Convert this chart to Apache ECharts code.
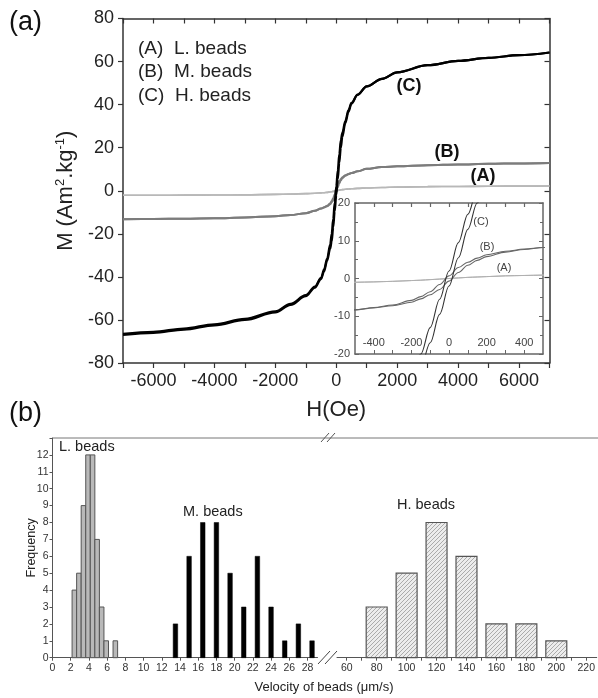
<!DOCTYPE html>
<html><head><meta charset="utf-8">
<script src="https://cdn.jsdelivr.net/npm/echarts@6/dist/echarts.min.js"></script>
<style>html,body{margin:0;padding:0;background:#fff}#c{width:598px;height:698px}</style>
</head><body><div id="c"></div><script>
// ---- (a) magnetisation loops: field sweeps and moments (Am2/kg) ----
const fieldDown = [7000,6000,5000,4000,3000,2000,1500,1000,700,500,400,300,200,150,100,50,0,-50,-100,-150,-200,-300,-400,-500,-700,-1000,-1500,-2000,-3000,-4000,-5000,-6000,-7000];
const fieldUp = [-7000,-6000,-5000,-4000,-3000,-2000,-1500,-1000,-700,-500,-400,-300,-200,-150,-100,-50,0,50,100,150,200,300,400,500,700,1000,1500,2000,3000,4000,5000,6000,7000];

const momentCDown = [64.2,63,61.7,60.3,58.3,55,52,48.5,44.7,40.8,37.5,32.5,27,23.5,17,9.5,2,-5.5,-13,-20,-25,-31.5,-36.5,-40.5,-44.5,-48.5,-52.5,-56,-59.5,-62,-64,-65.5,-66.5];
const momentCUp = [-67,-66,-64.5,-62.5,-60,-56.5,-53,-49,-45,-41,-37.5,-32.5,-27,-23.5,-17,-9.5,-2,5.5,13,20,25,31.5,36.5,40.5,44.5,48.5,52,55,58.3,60.3,61.7,63,64.2];

const momentBDown = [12.9,12.7,12.5,12.2,11.9,11.4,11,10.2,9,8.2,7.8,7.2,6.3,5.4,4.3,2.9,0.7,-1.6,-3.5,-4.8,-5.8,-7,-7.7,-8.3,-9.3,-10.4,-11.3,-11.8,-12.4,-12.8,-13,-13.1,-13.2];
const momentBUp = [-13.2,-13.1,-13,-12.8,-12.4,-11.8,-11.3,-10.4,-9.3,-8.3,-7.8,-7.2,-6.3,-5.4,-4.3,-2.9,-0.7,1.6,3.5,4.8,5.8,7,7.7,8.2,9,10.2,11,11.4,11.9,12.2,12.5,12.7,12.9];

const momentADown = [2.2,2.15,2.1,2.0,1.9,1.7,1.5,1.3,1.1,0.9,0.8,0.7,0.5,0.4,0.3,0.15,0,-0.15,-0.3,-0.45,-0.55,-0.75,-0.9,-1.0,-1.15,-1.35,-1.55,-1.7,-1.9,-2.0,-2.05,-2.1,-2.1];
const momentAUp = [-2.1,-2.1,-2.05,-2.0,-1.9,-1.7,-1.55,-1.35,-1.15,-1.0,-0.9,-0.75,-0.55,-0.45,-0.3,-0.15,0,0.15,0.3,0.4,0.5,0.7,0.8,0.9,1.1,1.3,1.5,1.7,1.9,2.0,2.1,2.15,2.2];

const mainXLabels = [-6000,-4000,-2000,0,2000,4000,6000];
const mainXTicks = [-7000,-6000,-5000,-4000,-3000,-2000,-1000,0,1000,2000,3000,4000,5000,6000,7000];
const insetXLabels = [-400,-200,0,200,400];
const insetXTicks = [-400,-300,-200,-100,0,100,200,300,400];

// ---- (b) velocity histograms ----
const lSpeed = [2.4,2.9,3.4,3.9,4.4,4.9,5.4,5.9,6.9];
const lCount = [4,5,9,12,12,7,3,1,1];
const mSpeed = [13.5,15,16.5,18,19.5,21,22.5,24,25.5,27,28.5];
const mCount = [2,6,8,8,5,3,6,3,1,2,1];
const hSpeed = [80,100,120,140,160,180,200];
const hCount = [3,5,8,6,2,2,1];
const lowSpeedLabels = [0,2,4,6,8,10,12,14,16,18,20,22,24,26,28];
const highSpeedLabels = [60,80,100,120,140,160,180,200,220];
const highSpeedTicks = [60,70,80,90,100,110,120,130,140,150,160,170,180,190,200,210,220];

const FONT = '"Liberation Sans", Arial, sans-serif';
const AX = '#333';

const pair = (xs, ys) => xs.map((x, i) => [x, ys[i]]);
const plain = v => String(v);

// diagonal hatch used by the fast-bead bars
const hatch = document.createElement('canvas');
hatch.width = 4; hatch.height = 4;
(function () {
  const g = hatch.getContext('2d');
  g.fillStyle = '#ececec'; g.fillRect(0, 0, 4, 4);
  g.strokeStyle = '#9a9a9a'; g.lineWidth = 0.8;
  g.beginPath();
  g.moveTo(0, 4); g.lineTo(4, 0);
  g.moveTo(-1, 1); g.lineTo(1, -1);
  g.moveTo(3, 5); g.lineTo(5, 3);
  g.stroke();
})();

function histItem(binWidth, fill, stroke, lw) {
  return function (params, api) {
    const x = api.value(0), y = api.value(1);
    const p0 = api.coord([x - binWidth / 2, y]);
    const p1 = api.coord([x + binWidth / 2, 0]);
    return {
      type: 'rect',
      shape: { x: p0[0], y: p0[1], width: p1[0] - p0[0], height: p1[1] - p0[1] },
      style: { fill: fill, stroke: stroke, lineWidth: lw }
    };
  };
}

const grids = [
  { left: 123, top: 18.5, width: 426.5, height: 344.5 },                 // main loop
  { left: 355, top: 203, width: 188, height: 151, show: true, backgroundColor: '#fff', borderWidth: 0 }, // inset
  { left: 52.5, top: 438, width: 265, height: 219.7 },                  // slow beads
  { left: 337, top: 438, width: 261, height: 219.7 }                    // fast beads
];

function loopSeries(xi, yi, xs, ys, color, width) {
  return {
    type: 'line', xAxisIndex: xi, yAxisIndex: yi, data: pair(xs, ys),
    showSymbol: false, smooth: 0.35, smoothMonotone: 'x',
    lineStyle: { color: color, width: width }, silent: true, animation: false
  };
}

function frameAxis(gridIndex, pos, min, max, color, ticks, tickLen) {
  return {
    gridIndex: gridIndex, type: 'value', min: min, max: max, position: pos,
    axisLine: { onZero: false, lineStyle: { color: color, width: 1.5 } },
    axisTick: { show: true, inside: true, customValues: ticks, length: tickLen, lineStyle: { color: color, width: 1.2 } },
    axisLabel: { show: false }, splitLine: { show: false }
  };
}

const option = {
  animation: false,
  textStyle: { fontFamily: FONT },
  grid: grids,
  xAxis: [
    { gridIndex: 0, type: 'value', min: -7000, max: 7000, position: 'bottom',
      axisLine: { onZero: false, lineStyle: { color: AX, width: 1.5 } },
      axisTick: { customValues: mainXTicks, length: 5, lineStyle: { color: AX, width: 1.2 } },
      axisLabel: { customValues: mainXLabels, formatter: plain, fontSize: 18, color: '#222', margin: 9, fontFamily: FONT },
      splitLine: { show: false },
      name: 'H(Oe)', nameLocation: 'middle', nameGap: 36,
      nameTextStyle: { fontSize: 22, color: '#222', fontFamily: FONT } },
    frameAxis(0, 'top', -7000, 7000, AX, mainXTicks, 5),
    { gridIndex: 1, type: 'value', min: -500, max: 500, position: 'bottom',
      axisLine: { onZero: false, lineStyle: { color: '#666', width: 1.5 } },
      axisTick: { inside: true, customValues: insetXTicks, length: 4, lineStyle: { color: '#666' } },
      axisLabel: { inside: true, customValues: insetXLabels, formatter: plain, fontSize: 11, color: '#444', margin: 6 },
      splitLine: { show: false } },
    frameAxis(1, 'top', -500, 500, '#666', insetXTicks, 4),
    { gridIndex: 2, type: 'value', min: 0, max: 29.1,
      axisLine: { onZero: false, lineStyle: { color: '#555', width: 1 } },
      axisTick: { customValues: lowSpeedLabels, length: 3, lineStyle: { color: '#555' } },
      axisLabel: { customValues: lowSpeedLabels, formatter: plain, fontSize: 10.5, color: '#333', margin: 5 },
      splitLine: { show: false } },
    { gridIndex: 3, type: 'value', min: 53.5, max: 227,
      axisLine: { onZero: false, lineStyle: { color: '#555', width: 1 } },
      axisTick: { customValues: highSpeedTicks, length: 3, lineStyle: { color: '#555' } },
      axisLabel: { customValues: highSpeedLabels, formatter: plain, fontSize: 10.5, color: '#333', margin: 5 },
      splitLine: { show: false } }
  ],
  yAxis: [
    { gridIndex: 0, type: 'value', min: -80, max: 80, interval: 20, position: 'left',
      axisLine: { show: true, onZero: false, lineStyle: { color: AX, width: 1.5 } },
      axisTick: { show: true, length: 5, lineStyle: { color: AX, width: 1.2 } },
      axisLabel: { fontSize: 18, color: '#222', margin: 9 },
      splitLine: { show: false },
      name: '{a|M (Am}{s|2}{a|.kg}{s|-1}{a|)}', nameLocation: 'middle', nameGap: 44,
      nameTextStyle: { fontFamily: FONT, rich: {
        a: { fontSize: 22, color: '#222', fontFamily: FONT },
        s: { fontSize: 13, color: '#222', fontFamily: FONT, padding: [0, 0, 12, 0] } } } },
    { gridIndex: 0, type: 'value', min: -80, max: 80, interval: 20, position: 'right',
      axisLine: { show: true, onZero: false, lineStyle: { color: AX, width: 1.5 } },
      axisTick: { show: true, inside: true, length: 5, lineStyle: { color: AX, width: 1.2 } },
      axisLabel: { show: false }, splitLine: { show: false } },
    { gridIndex: 1, type: 'value', min: -20, max: 20, interval: 10, position: 'left',
      axisLine: { show: true, onZero: false, lineStyle: { color: '#666', width: 1.5 } },
      axisTick: { show: true, inside: true, length: 4, lineStyle: { color: '#666' } },
      minorTick: { show: true, splitNumber: 2, length: 3, lineStyle: { color: '#666' } },
      axisLabel: { fontSize: 11, color: '#444', margin: 5 },
      splitLine: { show: false } },
    { gridIndex: 1, type: 'value', min: -20, max: 20, interval: 10, position: 'right',
      axisLine: { show: true, onZero: false, lineStyle: { color: '#666', width: 1.5 } },
      axisTick: { show: true, inside: true, length: 4, lineStyle: { color: '#666' } },
      minorTick: { show: true, splitNumber: 2, length: 3, lineStyle: { color: '#666' } },
      axisLabel: { show: false }, splitLine: { show: false } },
    { gridIndex: 2, type: 'value', min: 0, max: 13, interval: 1, position: 'left',
      axisLine: { show: true, onZero: false, lineStyle: { color: '#555', width: 1 } },
      axisTick: { show: true, length: 3, lineStyle: { color: '#555' } },
      axisLabel: { fontSize: 10.5, color: '#333', margin: 4,
        formatter: v => (v > 12 ? '' : String(v)) },
      splitLine: { show: false },
      name: 'Frequency', nameLocation: 'middle', nameGap: 14, nameMoveOverlap: false,
      nameTextStyle: { fontSize: 12.5, color: '#222', fontFamily: FONT } },
    { gridIndex: 3, type: 'value', min: 0, max: 13, show: false }
  ],
  series: [
    loopSeries(0, 0, fieldDown, momentADown, '#b8b8b8', 1.6),
    loopSeries(0, 0, fieldUp, momentAUp, '#b8b8b8', 1.6),
    loopSeries(0, 0, fieldDown, momentBDown, '#7c7c7c', 2),
    loopSeries(0, 0, fieldUp, momentBUp, '#7c7c7c', 2),
    loopSeries(0, 0, fieldDown, momentCDown, '#000', 2.2),
    loopSeries(0, 0, fieldUp, momentCUp, '#000', 2.2),
    loopSeries(2, 2, fieldDown, momentADown, '#b0b0b0', 1),
    loopSeries(2, 2, fieldUp, momentAUp, '#b0b0b0', 1),
    loopSeries(2, 2, fieldDown, momentBDown, '#666', 1.1),
    loopSeries(2, 2, fieldUp, momentBUp, '#666', 1.1),
    loopSeries(2, 2, fieldDown, momentCDown, '#333', 1.1),
    loopSeries(2, 2, fieldUp, momentCUp, '#333', 1.1),
    { type: 'custom', xAxisIndex: 4, yAxisIndex: 4, data: pair(lSpeed, lCount),
      renderItem: histItem(0.5, '#b9b9b9', '#555', 1), silent: true },
    { type: 'custom', xAxisIndex: 4, yAxisIndex: 4, data: pair(mSpeed, mCount),
      renderItem: histItem(0.5, '#000', '#000', 0.5), silent: true },
    { type: 'custom', xAxisIndex: 5, yAxisIndex: 5, data: pair(hSpeed, hCount),
      renderItem: histItem(14, { image: hatch, repeat: 'repeat' }, '#555', 1.2), silent: true }
  ],
  graphic: [
    { type: 'text', left: 9, top: 9, style: { text: '(a)', fontSize: 27, fill: '#111', fontFamily: FONT } },
    { type: 'text', left: 9, top: 400, style: { text: '(b)', fontSize: 27, fill: '#111', fontFamily: FONT } },
    { type: 'text', x: 138, y: 49, style: { text: '(A)  L. beads', fontSize: 19, fill: '#222', fontFamily: FONT, verticalAlign: 'middle' } },
    { type: 'text', x: 138, y: 72, style: { text: '(B)  M. beads', fontSize: 19, fill: '#222', fontFamily: FONT, verticalAlign: 'middle' } },
    { type: 'text', x: 138, y: 96, style: { text: '(C)  H. beads', fontSize: 19, fill: '#222', fontFamily: FONT, verticalAlign: 'middle' } },
    { type: 'text', x: 409, y: 86, style: { text: '(C)', fontSize: 18, fontWeight: 'bold', fill: '#111', fontFamily: FONT, align: 'center', verticalAlign: 'middle' } },
    { type: 'text', x: 447, y: 152, style: { text: '(B)', fontSize: 18, fontWeight: 'bold', fill: '#111', fontFamily: FONT, align: 'center', verticalAlign: 'middle' } },
    { type: 'text', x: 483, y: 176, style: { text: '(A)', fontSize: 18, fontWeight: 'bold', fill: '#111', fontFamily: FONT, align: 'center', verticalAlign: 'middle' } },
    { type: 'text', x: 481, y: 222, style: { text: '(C)', fontSize: 11, fill: '#444', fontFamily: FONT, align: 'center', verticalAlign: 'middle' } },
    { type: 'text', x: 487, y: 247, style: { text: '(B)', fontSize: 11, fill: '#444', fontFamily: FONT, align: 'center', verticalAlign: 'middle' } },
    { type: 'text', x: 504, y: 268, style: { text: '(A)', fontSize: 11, fill: '#444', fontFamily: FONT, align: 'center', verticalAlign: 'middle' } },
    // panel (b) frame top and axis break marks
    { type: 'line', shape: { x1: 52.5, y1: 438, x2: 598, y2: 438 }, style: { stroke: '#777', lineWidth: 1 } },
    { type: 'line', shape: { x1: 318, y1: 664, x2: 330, y2: 651 }, style: { stroke: '#444', lineWidth: 1 } },
    { type: 'line', shape: { x1: 325, y1: 664, x2: 337, y2: 651 }, style: { stroke: '#444', lineWidth: 1 } },
    { type: 'line', shape: { x1: 321, y1: 442, x2: 329, y2: 433 }, style: { stroke: '#555', lineWidth: 1 } },
    { type: 'line', shape: { x1: 327, y1: 442, x2: 335, y2: 433 }, style: { stroke: '#555', lineWidth: 1 } },
    { type: 'text', x: 59, y: 447, style: { text: 'L. beads', fontSize: 14.5, fill: '#222', fontFamily: FONT, verticalAlign: 'middle' } },
    { type: 'text', x: 183, y: 512, style: { text: 'M. beads', fontSize: 14.5, fill: '#222', fontFamily: FONT, verticalAlign: 'middle' } },
    { type: 'text', x: 426, y: 505, style: { text: 'H. beads', fontSize: 14.5, fill: '#222', fontFamily: FONT, align: 'center', verticalAlign: 'middle' } },
    { type: 'text', x: 324, y: 687, style: { text: 'Velocity of beads (μm/s)', fontSize: 13, fill: '#222', fontFamily: FONT, align: 'center', verticalAlign: 'middle' } }
  ]
};

const chart = echarts.init(document.getElementById('c'), null, { renderer: 'canvas' });
chart.setOption(option);
</script></body></html>
